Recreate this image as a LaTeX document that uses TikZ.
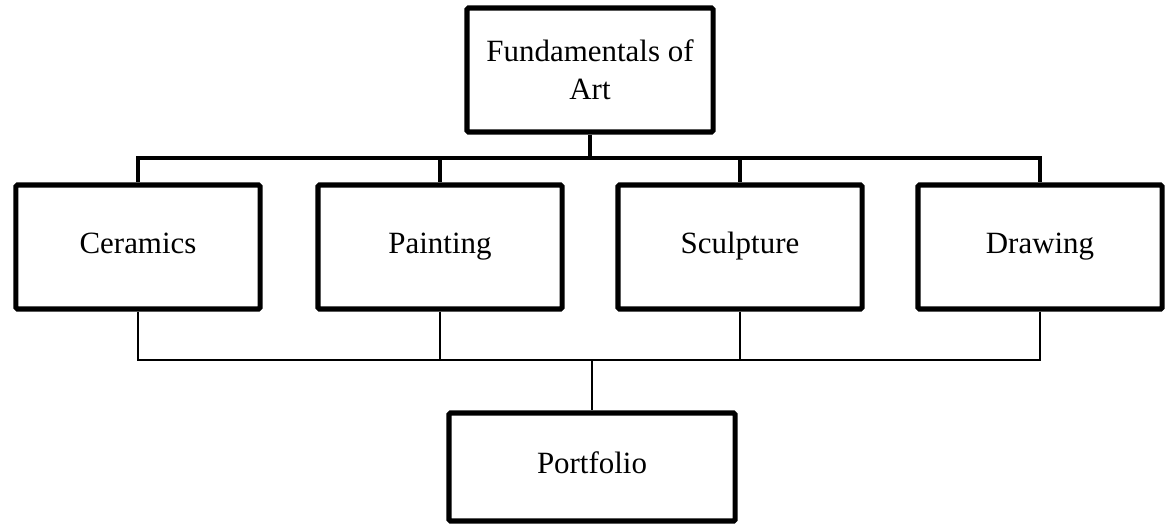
\documentclass[tikz,border=0pt]{standalone}
\usepackage{fontspec}
\setmainfont{Liberation Serif}
\begin{document}
\begin{tikzpicture}[x=0.025cm,y=-0.025cm,
    artbox/.style={draw,line width=3.6pt,rounded corners=1pt,align=center,
        minimum width=6.1cm,minimum height=3.1cm,font=\fontsize{22}{27}\selectfont},
    onerow/.style={text height=2.6ex,text depth=.45ex},
    bigline/.style={line width=3pt},
    smallline/.style={line width=1pt}]
    \useasboundingbox (0,0) rectangle (1168,529);

    \node[artbox,minimum width=6.15cm] at (590,70) (fund) {Fundamentals of\\Art};

    \node[artbox,onerow] at (138,247) (cer) {Ceramics};
    \node[artbox,onerow] at (440,247) (pai) {Painting};
    \node[artbox,onerow] at (740,247) (scu) {Sculpture};
    \node[artbox,onerow] at (1040,247) (dra) {Drawing};

    \node[artbox,onerow,minimum width=7.15cm,minimum height=2.7cm] at (592,467) (port) {Portfolio};

    \coordinate (top) at (590,158);
    \coordinate (bot) at (592,360);

    \draw[bigline] (fund.south) -- (top);
    \draw[bigline] (top) -| (cer.north);
    \draw[bigline] (top) -| (pai.north);
    \draw[bigline] (top) -| (scu.north);
    \draw[bigline] (top) -| (dra.north);

    \draw[smallline] (cer.south) |- (bot);
    \draw[smallline] (pai.south) |- (bot);
    \draw[smallline] (scu.south) |- (bot);
    \draw[smallline] (dra.south) |- (bot);
    \draw[smallline] (bot) -- (port.north);
\end{tikzpicture}
\end{document}
